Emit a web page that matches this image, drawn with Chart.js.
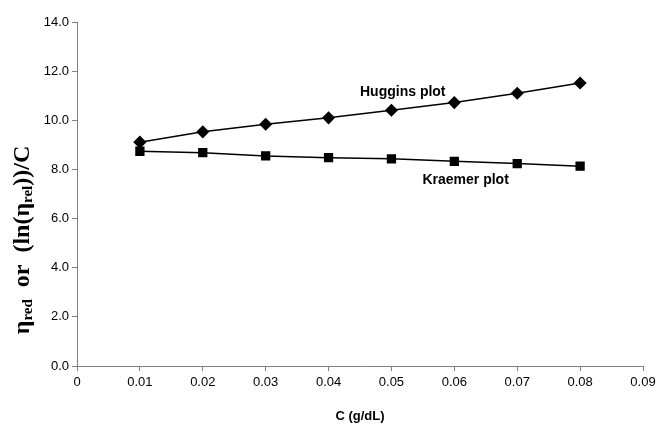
<!DOCTYPE html>
<html>
<head>
<meta charset="utf-8">
<script src="https://cdn.jsdelivr.net/npm/chart.js@4/dist/chart.umd.min.js"></script>
<style>
html,body{margin:0;padding:0;background:#fff;}
#wrap{width:660px;height:424px;position:relative;}
</style>
</head>
<body>
<div id="wrap"><canvas id="c" width="660" height="424"></canvas></div>
<script>
const concentrations = [0.01, 0.02, 0.03, 0.04, 0.05, 0.06, 0.07, 0.08];
const hugginsValues = [9.11, 9.53, 9.84, 10.10, 10.41, 10.72, 11.10, 11.52];
const kraemerValues = [8.74, 8.68, 8.55, 8.48, 8.43, 8.33, 8.24, 8.13];
const xTickValues = [0, 0.01, 0.02, 0.03, 0.04, 0.05, 0.06, 0.07, 0.08, 0.09];
const xTickLabels = ['0', '0.01', '0.02', '0.03', '0.04', '0.05', '0.06', '0.07', '0.08', '0.09'];
const yTickValues = [0, 2, 4, 6, 8, 10, 12, 14];
const seriesNames = ['Huggins plot', 'Kraemer plot'];
const xTitle = 'C (g/dL)';

const toPoints = (vals) => vals.map((v, i) => ({x: concentrations[i], y: v}));

const yTitlePlugin = {
  id: 'yTitle',
  afterDraw(chart) {
    const ctx = chart.ctx;
    const parts = [
      ['η', 'main'], ['red', 'sub'], ['  or  (ln(', 'main'], ['η', 'main'], ['rel', 'sub'], ['))/C', 'main']
    ];
    const mainFont = 'bold 24px "Liberation Serif", "Times New Roman", serif';
    const subFont = 'bold 15px "Liberation Serif", "Times New Roman", serif';
    ctx.save();
    let total = 0;
    const widths = parts.map(([t, k]) => {
      ctx.font = k === 'main' ? mainFont : subFont;
      const w = ctx.measureText(t).width;
      total += w;
      return w;
    });
    const cx = 23;
    const cy = 240;
    ctx.translate(cx, cy);
    ctx.rotate(-Math.PI / 2);
    ctx.fillStyle = '#000';
    ctx.textBaseline = 'middle';
    ctx.textAlign = 'left';
    let x = -total / 2;
    parts.forEach(([t, k], i) => {
      ctx.font = k === 'main' ? mainFont : subFont;
      ctx.fillText(t, x, k === 'main' ? 0 : 5);
      x += widths[i];
    });
    ctx.restore();
  }
};

const labelPlugin = {
  id: 'seriesLabels',
  afterDatasetsDraw(chart) {
    const ctx = chart.ctx;
    const xs = chart.scales.x, ys = chart.scales.y;
    ctx.save();
    ctx.font = 'bold 14px "Liberation Sans", Arial, sans-serif';
    ctx.fillStyle = '#000';
    ctx.textAlign = 'center';
    ctx.textBaseline = 'middle';
    ctx.fillText(seriesNames[0], xs.getPixelForValue(0.0518), ys.getPixelForValue(11.13));
    ctx.fillText(seriesNames[1], xs.getPixelForValue(0.0618), ys.getPixelForValue(7.55));
    ctx.restore();
  }
};

new Chart(document.getElementById('c'), {
  type: 'scatter',
  data: {
    datasets: [
      {
        label: seriesNames[0],
        data: toPoints(hugginsValues),
        showLine: true,
        borderColor: '#000',
        backgroundColor: '#000',
        borderWidth: 1.5,
        pointStyle: 'rectRot',
        pointRadius: 5.5,
        pointHoverRadius: 5.5,
        tension: 0
      },
      {
        label: seriesNames[1],
        data: toPoints(kraemerValues),
        showLine: true,
        borderColor: '#000',
        backgroundColor: '#000',
        borderWidth: 1.5,
        pointStyle: 'rect',
        pointRadius: 5.5,
        pointHoverRadius: 5.5,
        tension: 0
      }
    ]
  },
  options: {
    responsive: false,
    animation: false,
    layout: {padding: {top: 22, right: 17, left: 0, bottom: 0}},
    plugins: {legend: {display: false}, tooltip: {enabled: false}},
    scales: {
      x: {
        type: 'linear',
        min: 0,
        max: 0.09,
        afterBuildTicks(scale) { scale.ticks = xTickValues.map(v => ({value: v})); },
        afterFit(scale) { scale.height = 58; },
        ticks: {
          autoSkip: false,
          maxRotation: 0,
          padding: 4,
          color: '#000',
          font: {family: '"Liberation Sans", Arial, sans-serif', size: 13},
          callback: (v, i) => xTickLabels[i]
        },
        grid: {display: true, drawOnChartArea: false, drawTicks: true, tickLength: 5, color: '#808080', lineWidth: 1},
        border: {color: '#808080', width: 1},
        title: {
          display: true,
          text: xTitle,
          color: '#000',
          font: {family: '"Liberation Sans", Arial, sans-serif', size: 13, weight: 'bold'},
          padding: {top: 14, bottom: 0}
        }
      },
      y: {
        type: 'linear',
        min: 0,
        max: 14,
        afterBuildTicks(scale) { scale.ticks = yTickValues.map(v => ({value: v})); },
        afterFit(scale) { scale.width = 77; },
        ticks: {
          padding: 3,
          color: '#000',
          font: {family: '"Liberation Sans", Arial, sans-serif', size: 13},
          callback: (v) => Number(v).toFixed(1)
        },
        grid: {display: true, drawOnChartArea: false, drawTicks: true, tickLength: 5, color: '#808080', lineWidth: 1},
        border: {color: '#808080', width: 1}
      }
    }
  },
  plugins: [yTitlePlugin, labelPlugin]
});
</script>
</body>
</html>
